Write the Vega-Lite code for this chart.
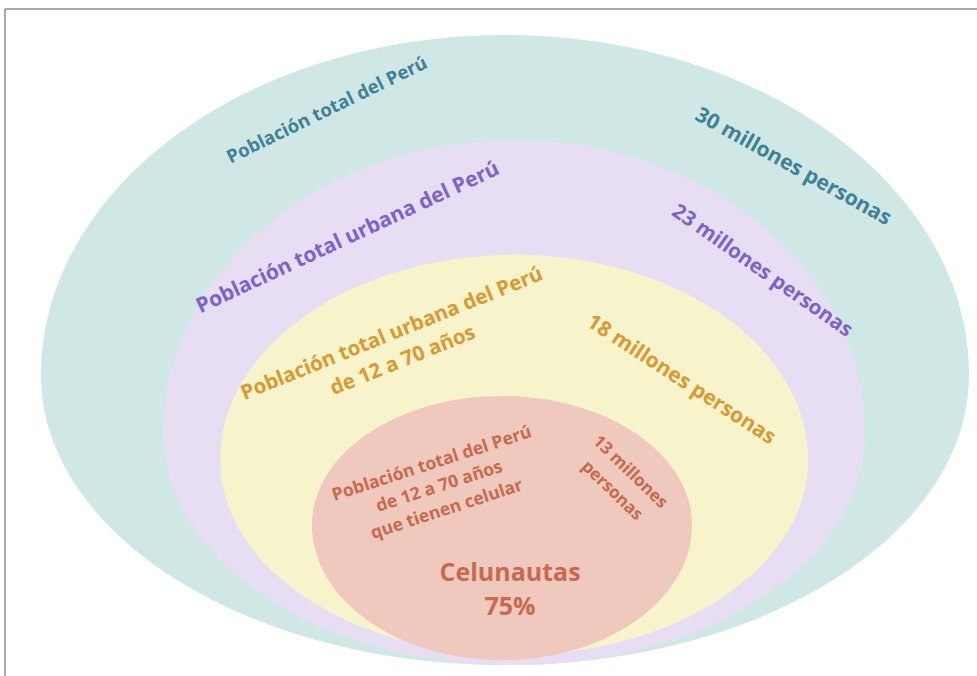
{
  "$schema": "https://vega.github.io/schema/vega-lite/v6.json",
  "width": 972,
  "height": 667,
  "autosize": "none",
  "padding": {"left": 5, "top": 9, "right": 0, "bottom": 0},
  "background": "white",
  "config": {"view": {"stroke": null}, "text": {"font": "Open Sans", "fontWeight": "bold"}},
  "datasets": {
    "niveles": [
      {"nivel": "Población total del Perú", "poblacion": 30},
      {"nivel": "Población total urbana del Perú", "poblacion": 23},
      {"nivel": "Población urbana de 12 a 70 años", "poblacion": 18},
      {"nivel": "Población de 12 a 70 años con celular", "poblacion": 13}
    ],
    "etiquetas": [
      {"id": "e1", "texto": "Población total del Perú", "x": 32.2, "y": 56.6},
      {"id": "e2", "texto": "30 millones personas", "x": 78.8, "y": 50.9},
      {"id": "e3", "texto": "Población total urbana del Perú", "x": 34.3, "y": 43.8},
      {"id": "e4", "texto": "23 millones personas", "x": 75.7, "y": 40.5},
      {"id": "e5", "texto": "Población total urbana del Perú\nde 12 a 70 años", "x": 38.7, "y": 34.2},
      {"id": "e6", "texto": "18 millones personas", "x": 67.6, "y": 29.6},
      {"id": "e7", "texto": "Población total del Perú\nde 12 a 70 años\nque tienen celular", "x": 42.7, "y": 21.2},
      {"id": "e8", "texto": "13 millones\npersonas", "x": 62.5, "y": 20.4},
      {"id": "e9", "texto": "Celunautas\n75%", "x": 50.5, "y": 10.3}
    ]
  },
  "layer": [
    {
      "data": {"name": "niveles"},
      "mark": {"type": "point", "filled": true, "opacity": 1, "strokeWidth": 0},
      "encoding": {
        "x": {"datum": 50, "type": "quantitative", "scale": {"domain": [0, 97.2], "nice": false, "zero": false}, "axis": null},
        "y": {"datum": 1.1, "type": "quantitative", "scale": {"domain": [0, 66.7], "nice": false, "zero": false}, "axis": null},
        "size": {"field": "poblacion", "type": "quantitative", "scale": {"domain": [13, 18, 23, 30], "range": [144400, 345744, 492804, 861184]}, "legend": null},
        "shape": {"field": "nivel", "type": "nominal", "legend": null, "scale": {
          "domain": ["Población total del Perú", "Población total urbana del Perú", "Población urbana de 12 a 70 años", "Población de 12 a 70 años con celular"],
          "range": [
            "M0 0C0.5523 0 1 -0.28 1 -0.625C1 -1.03 0.5523 -1.358 0 -1.358C-0.5523 -1.358 -1 -1.03 -1 -0.625C-1 -0.28 -0.5523 0 0 0Z",
            "M0.026 0C0.578 0 1.026 -0.296 1.026 -0.661C1.026 -1.122 0.578 -1.496 0.026 -1.496C-0.526 -1.496 -0.974 -1.122 -0.974 -0.661C-0.974 -0.296 -0.526 0 0.026 0Z",
            "M0.031 -0.034C0.583 -0.034 1.031 -0.331 1.031 -0.697C1.031 -1.083 0.583 -1.395 0.031 -1.395C-0.521 -1.395 -0.969 -1.083 -0.969 -0.697C-0.969 -0.331 -0.521 -0.034 0.031 -0.034Z",
            "M-0.016 -0.026C0.536 -0.026 0.984 -0.344 0.984 -0.737C0.984 -1.112 0.536 -1.416 -0.016 -1.416C-0.568 -1.416 -1.016 -1.112 -1.016 -0.737C-1.016 -0.344 -0.568 -0.026 -0.016 -0.026Z"
          ]}},
        "color": {"field": "nivel", "type": "nominal", "legend": null, "scale": {
          "domain": ["Población total del Perú", "Población total urbana del Perú", "Población urbana de 12 a 70 años", "Población de 12 a 70 años con celular"],
          "range": ["#cfe7e5", "#e7def3", "#f7f3cb", "#efc9bd"]}},
        "order": {"field": "poblacion", "sort": "descending"}
      }
    },
    {
      "data": {"name": "etiquetas"},
      "transform": [{"filter": "datum.id == 'e1'"}],
      "mark": {"type": "text", "angle": -26, "color": "#3f8196", "fontSize": 18.5, "align": "center", "baseline": "middle"},
      "encoding": {
        "x": {"field": "x", "type": "quantitative", "scale": {"domain": [0, 97.2], "nice": false, "zero": false}, "axis": null},
        "y": {"field": "y", "type": "quantitative", "scale": {"domain": [0, 66.7], "nice": false, "zero": false}, "axis": null},
        "text": {"field": "texto"}
      }
    },
    {
      "data": {"name": "etiquetas"},
      "transform": [{"filter": "datum.id == 'e2'"}],
      "mark": {"type": "text", "angle": 29, "color": "#3f8196", "fontSize": 21, "align": "center", "baseline": "middle"},
      "encoding": {
        "x": {"field": "x", "type": "quantitative", "axis": null},
        "y": {"field": "y", "type": "quantitative", "axis": null},
        "text": {"field": "texto"}
      }
    },
    {
      "data": {"name": "etiquetas"},
      "transform": [{"filter": "datum.id == 'e3'"}],
      "mark": {"type": "text", "angle": -25, "color": "#7d63c8", "fontSize": 21, "align": "center", "baseline": "middle"},
      "encoding": {
        "x": {"field": "x", "type": "quantitative", "axis": null},
        "y": {"field": "y", "type": "quantitative", "axis": null},
        "text": {"field": "texto"}
      }
    },
    {
      "data": {"name": "etiquetas"},
      "transform": [{"filter": "datum.id == 'e4'"}],
      "mark": {"type": "text", "angle": 35, "color": "#7d63c8", "fontSize": 20.5, "align": "center", "baseline": "middle"},
      "encoding": {
        "x": {"field": "x", "type": "quantitative", "axis": null},
        "y": {"field": "y", "type": "quantitative", "axis": null},
        "text": {"field": "texto"}
      }
    },
    {
      "data": {"name": "etiquetas"},
      "transform": [{"filter": "datum.id == 'e5'"}],
      "mark": {"type": "text", "angle": -22, "color": "#d89a33", "fontSize": 20.5, "lineHeight": 29, "lineBreak": "\n", "align": "center", "baseline": "middle"},
      "encoding": {
        "x": {"field": "x", "type": "quantitative", "axis": null},
        "y": {"field": "y", "type": "quantitative", "axis": null},
        "text": {"field": "texto"}
      }
    },
    {
      "data": {"name": "etiquetas"},
      "transform": [{"filter": "datum.id == 'e6'"}],
      "mark": {"type": "text", "angle": 33, "color": "#d89a33", "fontSize": 21, "align": "center", "baseline": "middle"},
      "encoding": {
        "x": {"field": "x", "type": "quantitative", "axis": null},
        "y": {"field": "y", "type": "quantitative", "axis": null},
        "text": {"field": "texto"}
      }
    },
    {
      "data": {"name": "etiquetas"},
      "transform": [{"filter": "datum.id == 'e7'"}],
      "mark": {"type": "text", "angle": -18, "color": "#c86a4e", "fontSize": 17.5, "lineHeight": 24, "lineBreak": "\n", "align": "center", "baseline": "middle"},
      "encoding": {
        "x": {"field": "x", "type": "quantitative", "axis": null},
        "y": {"field": "y", "type": "quantitative", "axis": null},
        "text": {"field": "texto"}
      }
    },
    {
      "data": {"name": "etiquetas"},
      "transform": [{"filter": "datum.id == 'e8'"}],
      "mark": {"type": "text", "angle": 44, "color": "#c86a4e", "fontSize": 17, "lineHeight": 26, "lineBreak": "\n", "align": "center", "baseline": "middle"},
      "encoding": {
        "x": {"field": "x", "type": "quantitative", "axis": null},
        "y": {"field": "y", "type": "quantitative", "axis": null},
        "text": {"field": "texto"}
      }
    },
    {
      "data": {"name": "etiquetas"},
      "transform": [{"filter": "datum.id == 'e9'"}],
      "mark": {"type": "text", "angle": 0, "color": "#c86a4e", "fontSize": 25, "lineHeight": 34, "lineBreak": "\n", "align": "center", "baseline": "middle"},
      "encoding": {
        "x": {"field": "x", "type": "quantitative", "axis": null},
        "y": {"field": "y", "type": "quantitative", "axis": null},
        "text": {"field": "texto"}
      }
    },
    {
      "data": {"values": [{}]},
      "mark": {"type": "rule", "color": "#8c8c8c", "strokeWidth": 1.5},
      "encoding": {"x": {"datum": 0, "type": "quantitative", "axis": null}}
    },
    {
      "data": {"values": [{}]},
      "mark": {"type": "rule", "color": "#8c8c8c", "strokeWidth": 1.5},
      "encoding": {"y": {"datum": 66.7, "type": "quantitative", "axis": null}}
    }
  ]
}
